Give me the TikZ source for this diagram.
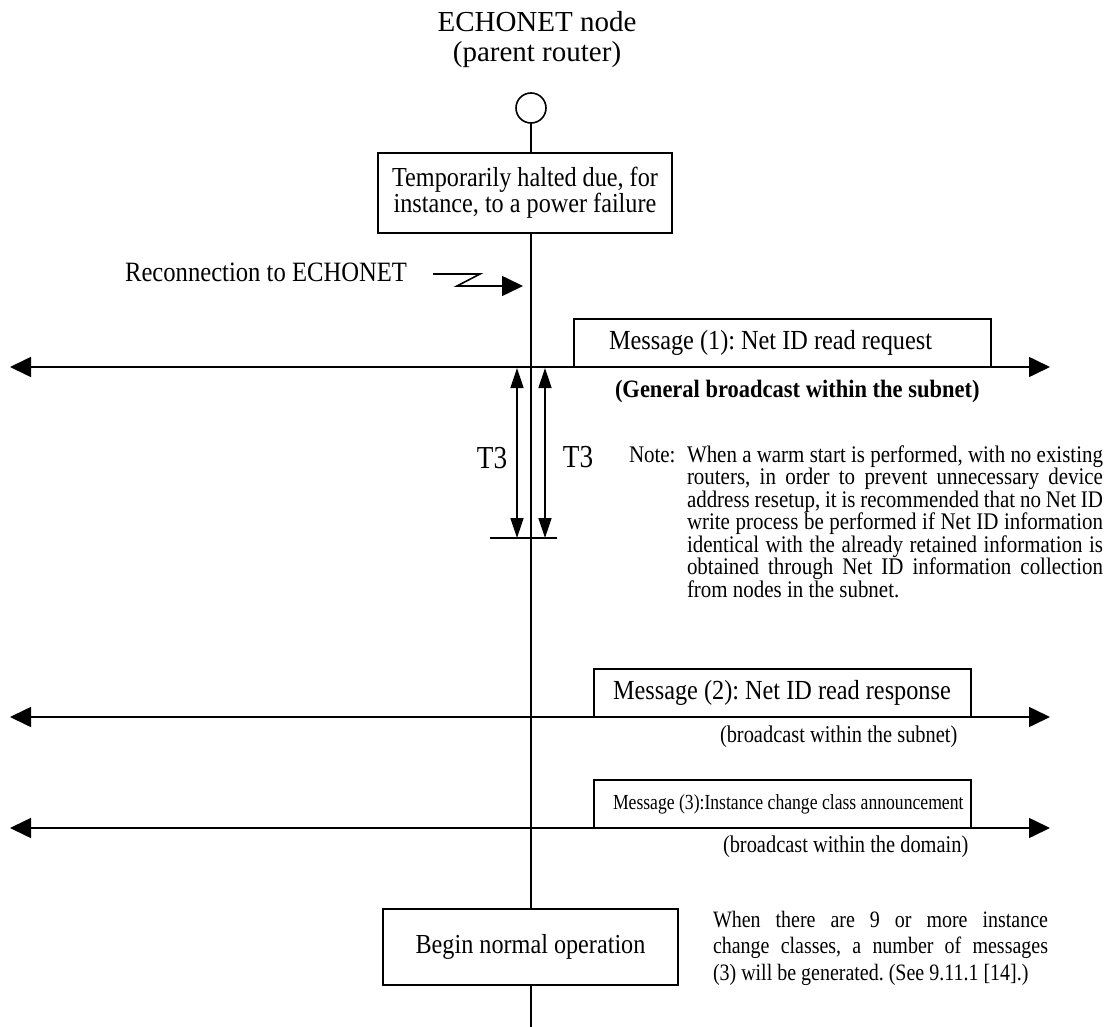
\documentclass[tikz,border=0pt]{standalone}
\usepackage{fontspec}
\setmainfont{Liberation Serif}
\newfontfamily\fA{Liberation Serif}[FakeStretch=0.88]
\newfontfamily\fB{Liberation Serif}[FakeStretch=0.85]
\newfontfamily\fC{Liberation Serif}[FakeStretch=0.82]
\newfontfamily\fD{Liberation Serif}[FakeStretch=0.90]
\usetikzlibrary{arrows.meta}
\hbadness=10000
\frenchspacing
\begin{document}
\begin{tikzpicture}[x=1pt,y=-1pt,
  every node/.style={inner sep=0pt, outer sep=0pt},
  ln/.style={line width=1.6pt},
  box/.style={draw, line width=1.6pt, fill=white},
  bigtip/.style={-{Triangle[length=21pt,width=20pt]}},
  bcast/.style={line width=1.6pt, {Triangle[length=21pt,width=20pt]}-{Triangle[length=21pt,width=20pt]}},
  tthree/.style={line width=1.4pt, {Triangle[length=20pt,width=13pt]}-{Triangle[length=20pt,width=13pt]}},
  msgbox/.style={box, anchor=south west, minimum height=48pt},
]
\useasboundingbox (0,0) rectangle (1112,1027);
% lifeline
\coordinate (lifetop) at (531,108);
\coordinate (lifeend) at (531,1027);
\draw[ln] (lifetop) -- (lifeend);
\node[draw, line width=1.6pt, fill=white, circle, minimum size=30pt] (circ) at (531,108) {};
% title (base anchor = last line)
\node[font=\fontsize{29}{30}\selectfont, align=center, anchor=base] (title) at (537,62) {ECHONET node\\(parent router)};
% halted box
\node[box, minimum width=294pt, minimum height=80pt, align=center, font=\fA\fontsize{27.5}{26}\selectfont] (halt) at (525,193) {Temporarily halted due, for\\instance, to a power failure};
% reconnection
\node[anchor=base east, font=\fA\fontsize{28}{28}\selectfont] (recon) at (407,282) {Reconnection to ECHONET};
\coordinate (z0) at (433,274);
\coordinate (z1) at (480,274);
\coordinate (z2) at (457,286);
\coordinate (z3) at (523,286);
\draw[ln, bigtip] (z0) -- (z1) -- (z2) -- (z3);
% broadcast lines
\coordinate (b1l) at (10,367);
\coordinate (b1r) at (1050,367);
\coordinate (b2l) at (10,717);
\coordinate (b2r) at (1050,717);
\coordinate (b3l) at (10,828);
\coordinate (b3r) at (1050,828);
\draw[bcast] (b1l) -- (b1r);
\draw[bcast] (b2l) -- (b2r);
\draw[bcast] (b3l) -- (b3r);
% message boxes
\node[msgbox, minimum width=417pt, font=\fA\fontsize{27.6}{30}\selectfont] (msg1) at (574,367) {\makebox[417pt][l]{\hspace*{35pt}Message (1): Net ID read request}};
\node[msgbox, minimum width=377pt, font=\fA\fontsize{27.6}{30}\selectfont] (msg2) at (594,717) {\makebox[377pt][l]{\hspace*{19pt}Message (2): Net ID read response}};
\node[msgbox, minimum width=377pt, font=\fC\fontsize{21.5}{24}\selectfont] (msg3) at (594,828) {\makebox[377pt][l]{\hspace*{19pt}Message (3):Instance change class announcement}};
% broadcast labels
\node[anchor=base west, font=\fD\bfseries\fontsize{25}{25}\selectfont] (gb) at (615,397) {(General broadcast within the subnet)};
\node[anchor=base west, font=\fB\fontsize{24}{24}\selectfont] (bs) at (720,742) {(broadcast within the subnet)};
\node[anchor=base west, font=\fB\fontsize{24}{24}\selectfont] (bd) at (723,852) {(broadcast within the domain)};
% T3
\coordinate (t1a) at (517,368);
\coordinate (t1b) at (517,538);
\coordinate (t2a) at (545,368);
\coordinate (t2b) at (545,538);
\coordinate (tk1) at (490,538);
\coordinate (tk2) at (557,538);
\draw[tthree] (t1a) -- (t1b);
\draw[tthree] (t2a) -- (t2b);
\draw[ln] (tk1) -- (tk2);
\node[font=\fB\fontsize{32}{32}\selectfont] (t3l) at (492,458) {T3};
\node[font=\fB\fontsize{32}{32}\selectfont] (t3r) at (578,457) {T3};
% note
\node[anchor=base west, font=\fA\fontsize{23.8}{22.5}\selectfont] (notelbl) at (629,462) {Note:};
\node[anchor=base west, text width=416pt, align=justify, font=\fA\fontsize{23.8}{22.5}\selectfont] (note) at (687,462) {When a warm start is performed, with no existing\linebreak
routers, in order to prevent unnecessary device\linebreak
address resetup, it is recommended that no Net ID\linebreak
write process be performed if Net ID information\linebreak
identical with the already retained information is\linebreak
obtained through Net ID information collection\linebreak
from nodes in the subnet.};
% begin box
\node[box, minimum width=295pt, minimum height=76pt, font=\fA\fontsize{27.5}{30}\selectfont] (begin) at (530.5,947) {Begin normal operation};
\node[anchor=base west, text width=335pt, align=justify, font=\fB\fontsize{23.5}{26.5}\selectfont] (many) at (713,927) {When there are 9 or more instance\linebreak
change classes, a number of messages\linebreak
(3) will be generated. (See 9.11.1 [14].)};
\end{tikzpicture}
\end{document}
